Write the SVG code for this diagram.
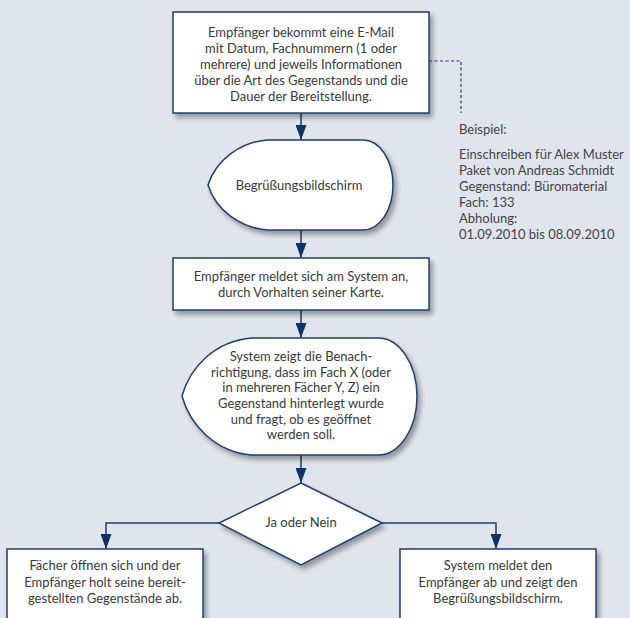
<svg xmlns="http://www.w3.org/2000/svg" width="630" height="618" viewBox="0 0 630 618">
<style>
.bg{fill:#dfe4ed}
.shape{fill:#ffffff;stroke:#1d3f6c;stroke-width:1.5;filter:url(#sh)}
.t{font-family:Lato,"Open Sans",sans-serif;font-size:13px;fill:#3a3a3a;text-anchor:middle}
.n{font-family:Lato,"Open Sans",sans-serif;font-size:13px;fill:#444}
.c{fill:none;stroke:#1d3f6c;stroke-width:1.5}
.d{fill:none;stroke:#1d3f6c;stroke-width:1.2;stroke-dasharray:3 2.5}
</style>
<defs>
<filter id="sh" x="-20%" y="-20%" width="150%" height="150%">
<feGaussianBlur in="SourceAlpha" stdDeviation="2.5"/>
<feOffset dx="3" dy="4" result="b"/>
<feComponentTransfer><feFuncA type="linear" slope="0.35"/></feComponentTransfer>
<feMerge><feMergeNode/><feMergeNode in="SourceGraphic"/></feMerge>
</filter>
<marker id="ah" markerUnits="userSpaceOnUse" markerWidth="15" markerHeight="11" refX="15" refY="5.5" orient="auto" viewBox="0 0 15 11">
<path d="M0,0 L15,5.5 L0,11 Z" fill="#0f3461"/>
</marker>
</defs>
<rect class="bg" x="0" y="0" width="630" height="618"/>
<g id="connectors">
<path class="c" d="M301,113 V140" marker-end="url(#ah)"/>
<path class="c" d="M301,230 V258" marker-end="url(#ah)"/>
<path class="c" d="M301,310 V338" marker-end="url(#ah)"/>
<path class="c" d="M301,455 V483" marker-end="url(#ah)"/>
<path class="c" d="M219,523 H106 V549" marker-end="url(#ah)"/>
<path class="c" d="M382,523 H496 V549" marker-end="url(#ah)"/>
<path class="d" d="M429,61 H461 V113"/>
</g>
<g id="n1">
<rect class="shape" x="173" y="12" width="256" height="101"/>
<text class="t" x="301" y="37">Empfänger bekommt eine E-Mail</text>
<text class="t" x="301" y="53">mit Datum, Fachnummern (1 oder</text>
<text class="t" x="301" y="69">mehrere) und jeweils Informationen</text>
<text class="t" x="301" y="85">über die Art des Gegenstands und die</text>
<text class="t" x="301" y="101">Dauer der Bereitstellung.</text>
</g>
<g id="note">
<text class="n" x="459" y="134">Beispiel:</text>
<text class="n" x="459" y="159">Einschreiben für Alex Muster</text>
<text class="n" x="459" y="175">Paket von Andreas Schmidt</text>
<text class="n" x="459" y="191">Gegenstand: Büromaterial</text>
<text class="n" x="459" y="207">Fach: 133</text>
<text class="n" x="459" y="223">Abholung:</text>
<text class="n" x="459" y="239">01.09.2010 bis 08.09.2010</text>
</g>
<g id="n2">
<path class="shape" d="M268,140 H363 A30,45 0 0 1 363,230 H268 C240,228 216,210 208,185 C216,160 240,142 268,140 Z"/>
<text class="t" x="299" y="190">Begrüßungsbildschirm</text>
</g>
<g id="n3">
<rect class="shape" x="173" y="258" width="256" height="52"/>
<text class="t" x="301" y="281">Empfänger meldet sich am System an,</text>
<text class="t" x="301" y="297">durch Vorhalten seiner Karte.</text>
</g>
<g id="n4">
<path class="shape" d="M252,338 H378 A39,58.5 0 0 1 378,455 H252 C215,452 190,425 182,396 C190,367 215,341 252,338 Z"/>
<text class="t" x="301" y="361">System zeigt die Benach-</text>
<text class="t" x="301" y="377">richtigung, dass im Fach X (oder</text>
<text class="t" x="301" y="392">in mehreren Fächer Y, Z) ein</text>
<text class="t" x="301" y="408">Gegenstand hinterlegt wurde</text>
<text class="t" x="301" y="424">und fragt, ob es geöffnet</text>
<text class="t" x="301" y="439">werden soll.</text>
</g>
<g id="n5">
<path class="shape" d="M301,483 L382,523 L301,565 L219,523 Z"/>
<text class="t" x="301" y="527">Ja oder Nein</text>
</g>
<g id="n6">
<rect class="shape" x="7" y="549" width="196" height="80"/>
<text class="t" x="105" y="570">Fächer öffnen sich und der</text>
<text class="t" x="105" y="587">Empfänger holt seine bereit-</text>
<text class="t" x="105" y="603">gestellten Gegenstände ab.</text>
</g>
<g id="n7">
<rect class="shape" x="400" y="549" width="196" height="80"/>
<text class="t" x="498" y="570">System meldet den</text>
<text class="t" x="498" y="587">Empfänger ab und zeigt den</text>
<text class="t" x="498" y="603">Begrüßungsbildschirm.</text>
</g>
</svg>
